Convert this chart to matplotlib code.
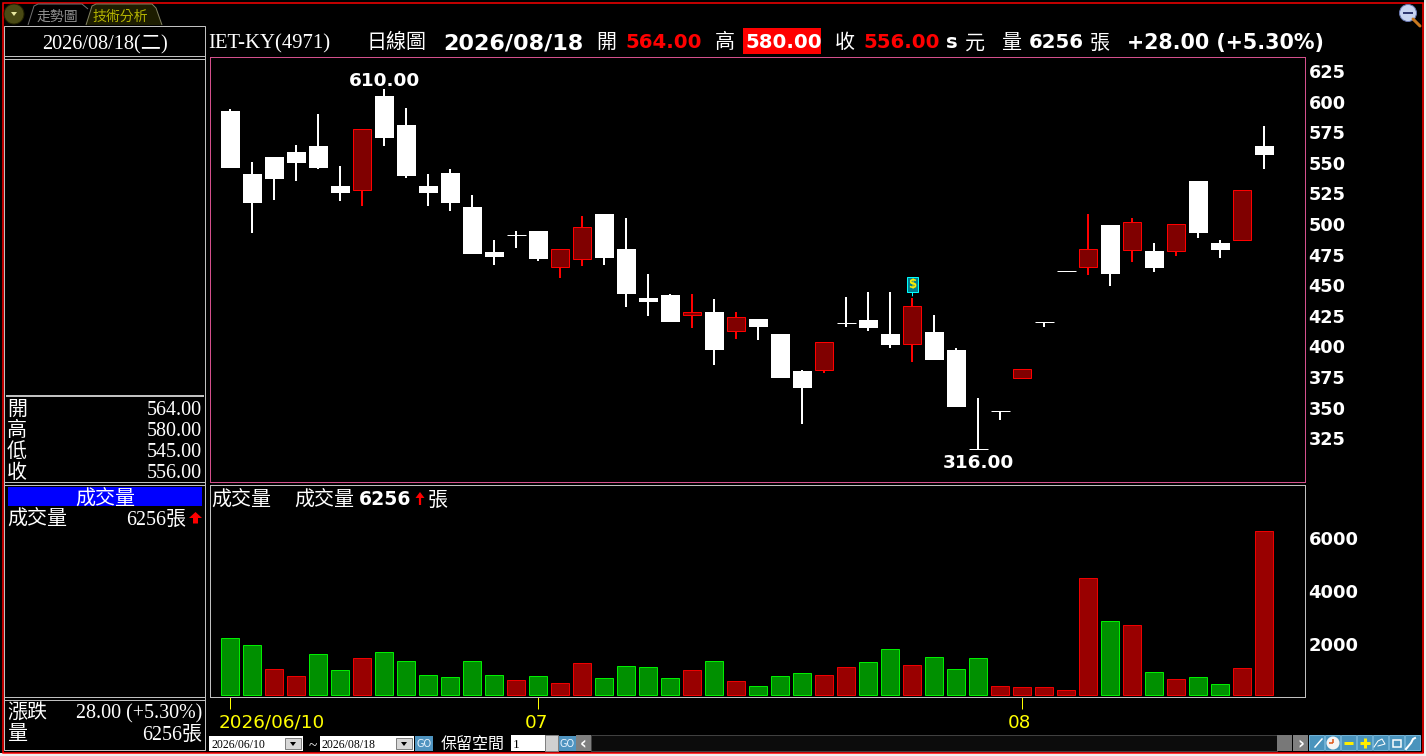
# K線圖 + 成交量 (IET-KY 4971 日線)

import matplotlib
matplotlib.use("Agg")
import matplotlib.pyplot as plt
from matplotlib.patches import Rectangle, Circle, Polygon, FancyArrow
from matplotlib.transforms import ScaledTranslation

# 每日開高低收
opens = [592.3, 540.9, 554.7, 558.8, 563.7, 531.0, 527.6, 604.6, 580.9, 531.0, 541.7, 513.9,
         477.1, 490.8, 494.3, 465.0, 471.8, 508.2, 479.6, 439.5, 442.0, 425.5, 428.2, 412.4,
         422.4, 410.1, 379.9, 381.1, 418.9, 421.6, 410.1, 402.3, 411.8, 397.0, 316.0, 347.0,
         373.8, 419.7, 461.4, 464.7, 499.2, 478.6, 477.9, 477.8, 535.1, 484.5, 486.8, 564.0]
highs = [594.0, 550.7, 554.7, 564.5, 589.9, 547.4, 577.6, 610.0, 594.8, 540.9, 544.9, 523.7,
         487.0, 494.3, 494.3, 479.3, 506.5, 508.2, 504.9, 459.2, 442.8, 442.8, 438.7, 428.2,
         422.4, 410.1, 380.7, 403.6, 440.4, 444.4, 444.4, 439.5, 425.6, 398.7, 357.8, 347.0,
         381.5, 419.7, 461.4, 508.2, 499.2, 504.9, 484.5, 499.8, 535.1, 487.0, 527.5, 580.0]
lows = [545.8, 492.6, 519.6, 535.1, 544.9, 518.8, 514.7, 563.7, 537.6, 514.7, 510.6, 475.5,
        466.5, 480.4, 469.8, 455.9, 465.7, 466.5, 432.2, 424.8, 420.0, 415.0, 384.8, 406.0,
        405.2, 374.2, 336.6, 378.3, 415.8, 412.6, 398.7, 387.2, 388.9, 350.5, 316.0, 339.9,
        373.8, 415.8, 461.4, 458.3, 449.3, 469.0, 460.8, 473.9, 488.6, 472.2, 486.8, 545.0]
closes = [545.8, 517.2, 536.8, 549.8, 545.8, 525.3, 577.6, 570.3, 539.2, 525.3, 517.2, 475.5,
          473.0, 490.8, 471.4, 479.3, 497.5, 472.2, 442.8, 436.3, 420.0, 428.2, 397.0, 424.0,
          415.8, 374.2, 366.0, 403.6, 418.9, 415.0, 401.1, 433.0, 388.9, 350.5, 316.0, 347.0,
          381.5, 419.7, 461.4, 479.3, 459.2, 501.4, 464.0, 499.8, 492.6, 478.8, 527.5, 556.0]

# 成交量(張)
volumes = [2233, 1969, 1063, 799, 1629, 1025, 1478, 1705, 1365, 837, 761, 1365,
           837, 648, 799, 535, 1290, 723, 1176, 1139, 723, 1025, 1365, 610,
           422, 799, 912, 837, 1139, 1327, 1818, 1214, 1516, 1063, 1478, 422,
           384, 384, 271, 4497, 2875, 2724, 950, 686, 761, 497, 1101, 6256]

price_ticks = [325, 350, 375, 400, 425, 450, 475, 500, 525, 550, 575, 600, 625]
volume_ticks = [2000, 4000, 6000]
date_tick_pos = [0, 14, 36]
date_tick_labels = ["2026/06/10", "07", "08"]
dividend_day = 31

W, H = 1426, 756
SANS = ["Noto Sans CJK TC", "DejaVu Sans"]
SERIF = ["Liberation Serif", "Noto Sans CJK TC"]
BOLD = "DejaVu Sans"
GREY = "#c0c0c0"
PINK = "#d4508c"
px = 0.72  # 1 像素的線寬

fig = plt.figure(figsize=(W / 100, H / 100), dpi=100, facecolor="#f0f0f0")


def pixel_axes(left, top, right, bottom):
    return fig.add_axes([left / W, 1 - bottom / H, (right - left) / W, (bottom - top) / H])


xlim = ((210 - 230.5) / 22, (1305 - 230.5) / 22)
n = len(closes)
days = list(range(n))
half = 0.5 / 22  # 線條對齊像素用

# 外框背景
bg = pixel_axes(0, 0, W, H)
bg.set_xlim(0, W)
bg.set_ylim(H, 0)
bg.axis("off")
bg.add_patch(Rectangle((0, 0), 1424, 753, fc="black", ec="none"))
bg.add_patch(Rectangle((3, 2.5), 1420, 750, fc="none", ec="#ff0000", lw=1.5 * px))

# 上方 K 線圖
ax = pixel_axes(210, 57, 1305, 482)
ax.set_facecolor("black")
ax.set_xlim(xlim)
ax.set_ylim(289.2, 636.44)
for s in ax.spines.values():
    s.set_color(PINK)
    s.set_linewidth(px)
ax.set_xticks([])
ax.yaxis.tick_right()
ax.set_yticks(price_ticks)
ax.set_yticklabels([str(t) for t in price_ticks], fontfamily=BOLD, fontweight="bold",
                   fontsize=12.7, color="white")
ax.tick_params(axis="y", length=0, pad=2.5)

for i in days:
    o, h, l, c = opens[i], highs[i], lows[i], closes[i]
    wick_color = "#ff0000" if c > o else "white"
    wick = ax.vlines(i - half, l, h, color=wick_color, lw=2 * px, zorder=2)
    wick.set_snap(True)
    if c > o:
        ax.bar(i - half, c - o, bottom=o, width=18 / 22, fc="#800000", ec="#ff0000", lw=px, zorder=3)
    elif c == o:
        ax.hlines(c, i - 9.5 / 22, i + 9.5 / 22, color="white", lw=px, zorder=3)
    else:
        ax.bar(i, o - c, bottom=c, width=19 / 22, fc="white", ec="none", zorder=3)

# 最高、最低價
top_i = highs.index(max(highs))
low_i = lows.index(min(lows))
ax.annotate(f"{highs[top_i]:.2f}", (top_i, highs[top_i]), xytext=(0, 5.8),
            textcoords="offset points", ha="center", va="center", color="white",
            fontfamily=BOLD, fontweight="bold", fontsize=13.3)
ax.annotate(f"{lows[low_i]:.2f}", (low_i, lows[low_i]), xytext=(0, -9.7),
            textcoords="offset points", ha="center", va="center", color="white",
            fontfamily=BOLD, fontweight="bold", fontsize=13.3)

# 除息標記
ax.annotate("$", (dividend_day, highs[dividend_day]), xytext=(0, 9.5),
            textcoords="offset points", ha="center", va="center", color="#ffee00",
            fontfamily=BOLD, fontweight="bold", fontsize=8.5, zorder=6,
            bbox=dict(boxstyle="square,pad=0.08", fc="#007f8f", ec="#00ffff", lw=px),
            arrowprops=dict(arrowstyle="-", color="#00ffff", lw=px, shrinkA=0, shrinkB=1.5))

# 下方成交量
ax2 = pixel_axes(210, 485, 1305, 697)
ax2.set_facecolor("black")
ax2.set_xlim(xlim)
ax2.set_ylim(0, 212 * 37.74)
for s in ax2.spines.values():
    s.set_color(GREY)
    s.set_linewidth(px)
ax2.yaxis.tick_right()
ax2.set_yticks(volume_ticks)
ax2.set_yticklabels([str(t) for t in volume_ticks], fontfamily=BOLD, fontweight="bold",
                    fontsize=13, color="white")
ax2.tick_params(axis="y", length=0, pad=2.5)
ax2.set_xticks([p - half for p in date_tick_pos])
ax2.set_xticklabels(date_tick_labels, fontfamily=BOLD, fontsize=13.2, color="#ffff00")
ax2.tick_params(axis="x", length=12 * px, width=px, color="#ffff00", pad=3.5)
tick_labels = ax2.get_xticklabels()
tick_labels[0].set_ha("left")
for lab, dx in zip(tick_labels, (-11, -1, -3)):
    lab.set_transform(lab.get_transform() + ScaledTranslation(dx / 100, 0, fig.dpi_scale_trans))

# 柱底與軸線留一點空隙
base = 75
for i in days:
    up = i > 0 and closes[i] > closes[i - 1]
    ax2.bar(i - half, volumes[i] - base, bottom=base, width=18 / 22, fc="#990000" if up else "#009000",
            ec="#ee0000" if up else "#00ee00", lw=px, zorder=3)

# 其餘介面放在最上層
ui = pixel_axes(0, 0, W, H)
ui.set_xlim(0, W)
ui.set_ylim(H, 0)
ui.axis("off")
ui.patch.set_alpha(0)


def label(x, y, s, fam=SANS, size=14.4, color="white", ha="left", weight="normal", **kw):
    # y 是字的視覺中心,換成基線
    base_y = y + 0.37 * size * 100 / 72
    return ui.text(x, base_y, s, fontfamily=fam, fontsize=size, color=color, ha=ha, va="baseline",
                   fontweight=weight, **kw)


def bold(x, y, s, color="white", size=14.2, ha="left"):
    return label(x, y, s, BOLD, size, color, ha, "bold")


def line(x0, y0, x1, y1, color=GREY, lw=px):
    ui.plot([x0, x1], [y0, y1], color=color, lw=lw, solid_capstyle="butt")


def box(x0, y0, x1, y1, fc, ec="none", lw=px):
    ui.add_patch(Rectangle((x0, y0), x1 - x0, y1 - y0, fc=fc, ec=ec, lw=lw))


# 左欄框線
box(4, 26, 205, 750, "none", GREY)
for yy in (56, 59, 482, 485, 697, 700):
    line(4, yy, 205, yy)
line(6, 396, 204, 396, lw=2 * px)

label(105, 42, "2026/08/18(二)", SERIF, 14.6, ha="center")
for yy, name, val in zip((408, 429, 450, 471), "開高低收", ("564.00", "580.00", "545.00", "556.00")):
    label(7, yy, name)
    label(202, yy, val, SERIF, 14.4, ha="right")

box(8, 487, 202, 506, "#0000ff")
label(105, 497, "成交量", ha="center")
label(7, 517, "成交量")
label(186, 517, "6256張", SERIF, 14.4, ha="right")
ui.add_patch(FancyArrow(195.5, 523.5, 0, -11.5, width=5, head_width=13, head_length=6,
                        length_includes_head=True, fc="#ff0000", ec="none"))

label(7, 711, "漲跌")
label(202, 711, "28.00 (+5.30%)", SERIF, 14.4, ha="right")
label(7, 732, "量")
label(202, 732, "6256張", SERIF, 14.4, ha="right")

# 分頁標籤
ui.add_patch(Circle((14, 14), 10, fc="#4a4a14", ec="#222200", lw=px))
ui.add_patch(Polygon([(11, 12), (17, 12), (14, 16)], fc="#e8e8a0", ec="none"))
ui.add_patch(Polygon([(28, 25), (34, 6), (38, 4), (82, 4), (88, 9)], closed=False, fc="none", ec="#707070", lw=px))
ui.add_patch(Polygon([(86, 25), (92, 6), (96, 4), (152, 4), (156, 8), (162, 25)], closed=False, fc="#1d1d00", ec="#808060", lw=px))
label(37, 16, "走勢圖", size=10, color="#909090")
label(93, 16, "技術分析", size=10, color="#b4b400")

# 放大鏡圖示
ui.plot([1413, 1420], [19, 26], color="#c87820", lw=3 * px, solid_capstyle="round")
ui.add_patch(Circle((1408, 13), 8.5, fc="#c8d4f0", ec="#6a78b0", lw=px))
line(1403, 13, 1413, 13, color="#303870", lw=2 * px)

# 標題列
label(208, 41, "IET-KY(4971)", SERIF, 14.9)
label(366, 41, "日線圖")
bold(443, 41, "2026/08/18", size=16)
label(596, 41, "開")
bold(625, 41, "564.00", "#ff0000")
label(715, 41, "高")
box(743, 28, 821, 54, "#ff0000")
bold(745, 41, "580.00")
label(835, 41, "收")
bold(863, 41, "556.00", "#ff0000")
bold(946, 41, "s")
label(965, 41, "元")
label(1001, 41, "量")
bold(1029, 41, "6256")
label(1090, 41, "張")
bold(1127, 41, "+28.00 (+5.30%)", size=14.9)

# 成交量面板標題
label(211, 498, "成交量")
label(294, 498, "成交量")
bold(359, 498, "6256", size=13.6)
ui.add_patch(FancyArrow(420, 505, 0, -13, width=2.2, head_width=9, head_length=6,
                        length_includes_head=True, fc="#ff0000", ec="none"))
label(428, 498, "張")

# 底部控制列
for x0 in (209, 320):
    box(x0, 736, x0 + 94, 751, "white")
    label(x0 + 2, 744, "2026/06/10" if x0 == 209 else "2026/08/18", SERIF, 8.5, color="black")
    box(x0 + 76, 738, x0 + 92, 749, "#d8d8d8", "#808080")
    ui.add_patch(Polygon([(x0 + 81, 742), (x0 + 87, 742), (x0 + 84, 746)], fc="black", ec="none"))
label(309, 744, "~", SERIF, 11)
for x0 in (415, 558):
    box(x0, 736, x0 + 18, 751, "#4f94c0")
    label(x0 + 9, 743.5, "GO", BOLD, 7, color="#e8f4ff", ha="center")
label(441, 743, "保留空間", size=11.5)
box(511, 735, 545, 751, "white")
label(513, 743, "1", SERIF, 9.5, color="black")
box(545, 735, 558, 751, "#d0d0d0", "#808080")
box(576, 735, 591, 751, "#808080")
label(583.5, 743, "‹", BOLD, 12, ha="center", weight="bold")
box(591, 735, 1277, 751, "#0c0c0c", "#404040")
box(1277, 735, 1292, 751, "#787878")
box(1293, 735, 1308, 751, "#808080")
label(1300.5, 743, "›", BOLD, 12, ha="center", weight="bold")

# 右下工具鈕
for k in range(7):
    box(1309 + k * 16, 735, 1309 + k * 16 + 15, 750, "#4a94bd", "#6fb0d4")
ui.plot([1315, 1322], [747, 739], color="white", lw=1.5 * px)
ui.add_patch(Circle((1333, 743), 6.5, fc="#f4f4f4", ec="none"))
line(1333, 739, 1333, 743, color="#e05010", lw=1.5 * px)
line(1333, 743, 1329, 743, color="#e05010", lw=1.5 * px)
line(1344, 743, 1353, 743, color="#ffee00", lw=3 * px)
line(1360, 743, 1370, 743, color="#ffee00", lw=3 * px)
line(1365, 738, 1365, 748, color="#ffee00", lw=3 * px)
ui.plot([1374, 1378, 1382, 1385, 1378], [747, 741, 739, 744, 746], color="white", lw=px)
box(1393, 740, 1401, 747, "none", "white", lw=1.5 * px)
ui.plot([1406, 1411, 1413, 1415], [749, 743, 739, 738], color="white", lw=2 * px)

fig.savefig("out.png", dpi=100, facecolor=fig.get_facecolor())
